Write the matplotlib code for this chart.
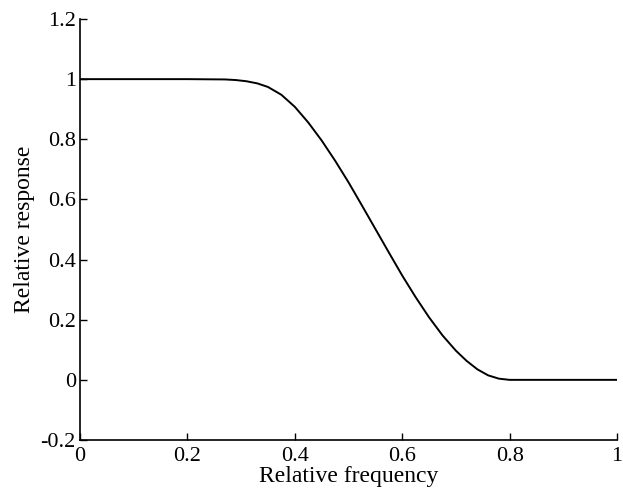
import matplotlib
matplotlib.use("Agg")
from matplotlib import pyplot as plt

# values
freq = [0.0, 0.1, 0.2, 0.27, 0.29, 0.31, 0.33, 0.35, 0.375, 0.4, 0.425,
        0.45, 0.475, 0.5, 0.525, 0.55, 0.575, 0.6, 0.625, 0.65, 0.675,
        0.7, 0.72, 0.74, 0.76, 0.78, 0.8, 0.9, 1.0]
response = [1.0, 1.0, 1.0, 0.999, 0.997, 0.993, 0.986, 0.974, 0.948, 0.908, 0.856,
            0.796, 0.729, 0.657, 0.580, 0.502, 0.424, 0.347, 0.275, 0.208, 0.148,
            0.097, 0.063, 0.035, 0.015, 0.004, 0.0, 0.0, 0.0]

x_ticks = [0, 0.2, 0.4, 0.6, 0.8, 1]
x_tick_labels = ["0", "0.2", "0.4", "0.6", "0.8", "1"]
y_ticks = [-0.2, 0, 0.2, 0.4, 0.6, 0.8, 1, 1.2]
y_tick_labels = ["-0.2", "0", "0.2", "0.4", "0.6", "0.8", "1", "1.2"]

plt.rcParams['font.family'] = ['Liberation Serif', 'DejaVu Serif']

fig = plt.figure(figsize=(6.23, 4.90), dpi=100)
ax = fig.add_axes([80 / 623, 1 - 440 / 490, 537 / 623, 421 / 490])

ax.plot(freq, response, color='black', linewidth=1.4, solid_joinstyle='round')

ax.set_xlim(0, 1)
ax.set_ylim(-0.2, 1.2)
ax.set_xticks(x_ticks)
ax.set_xticklabels(x_tick_labels)
ax.set_yticks(y_ticks)
ax.set_yticklabels(y_tick_labels)
ax.tick_params(direction='in', length=5, width=1, labelsize=16)
ax.tick_params(axis='x', pad=5)
ax.tick_params(axis='y', pad=3)

ax.spines['top'].set_visible(False)
ax.spines['right'].set_visible(False)
ax.spines['left'].set_linewidth(1.2)
ax.spines['bottom'].set_linewidth(1.2)

ax.set_xlabel("Relative frequency", fontsize=17, labelpad=0)
ax.set_ylabel("Relative response", fontsize=17, labelpad=4)

fig.savefig("out.png", dpi=100)
